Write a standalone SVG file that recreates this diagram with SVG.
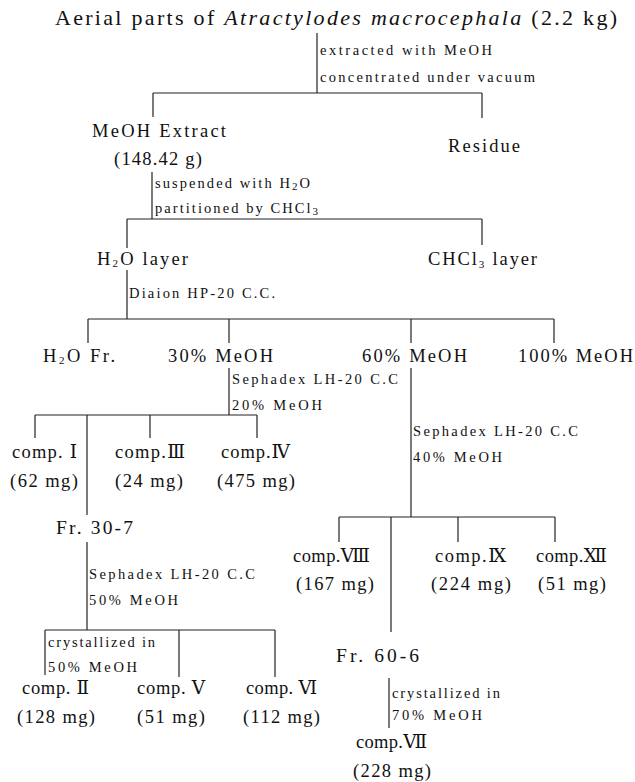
<svg xmlns="http://www.w3.org/2000/svg" width="635" height="782" viewBox="0 0 635 782">
<style>
.t{font-family:"Liberation Serif","DejaVu Serif","Noto Sans CJK KR",serif;fill:#111}
.ti{font-size:22px}
.lab{font-size:18.5px}
.fr{font-size:19.5px}
.ann{font-size:14.5px}
.sub{font-size:11px}
.c line{stroke:#222;stroke-width:1.2;fill:none}
</style>
<rect width="635" height="782" fill="#fff"/>
<g class="c" id="connectors">
<line x1="317" y1="33" x2="317" y2="93"/>
<line x1="153" y1="93" x2="482" y2="93"/>
<line x1="153" y1="93" x2="153" y2="117"/>
<line x1="482" y1="93" x2="482" y2="118"/>
<line x1="152" y1="172" x2="152" y2="219"/>
<line x1="127" y1="219" x2="482" y2="219"/>
<line x1="127" y1="219" x2="127" y2="248"/>
<line x1="482" y1="219" x2="482" y2="245"/>
<line x1="127" y1="270" x2="127" y2="319"/>
<line x1="88" y1="319" x2="554" y2="319"/>
<line x1="88" y1="319" x2="88" y2="343"/>
<line x1="229" y1="319" x2="229" y2="343"/>
<line x1="411" y1="319" x2="411" y2="343"/>
<line x1="554" y1="319" x2="554" y2="343"/>
<line x1="229" y1="368" x2="229" y2="415"/>
<line x1="35" y1="415" x2="257" y2="415"/>
<line x1="35" y1="415" x2="35" y2="438"/>
<line x1="87" y1="415" x2="87" y2="515"/>
<line x1="150" y1="415" x2="150" y2="438"/>
<line x1="257" y1="415" x2="257" y2="438"/>
<line x1="87" y1="542" x2="87" y2="630"/>
<line x1="45" y1="630" x2="275" y2="630"/>
<line x1="45" y1="630" x2="45" y2="675"/>
<line x1="179" y1="630" x2="179" y2="677"/>
<line x1="275" y1="630" x2="275" y2="677"/>
<line x1="411" y1="368" x2="411" y2="517"/>
<line x1="339" y1="517" x2="555" y2="517"/>
<line x1="339" y1="517" x2="339" y2="542"/>
<line x1="391" y1="517" x2="391" y2="632"/>
<line x1="458" y1="517" x2="458" y2="542"/>
<line x1="555" y1="517" x2="555" y2="542"/>
<line x1="389" y1="678" x2="389" y2="728"/>
</g>
<g id="annotations">
<text class="t ann" x="320" y="55" textLength="172" lengthAdjust="spacing">extracted with MeOH</text>
<text class="t ann" x="320" y="82" textLength="215" lengthAdjust="spacing">concentrated under vacuum</text>
<text class="t ann" x="155" y="188" textLength="155" lengthAdjust="spacing">suspended with H<tspan class="sub" dy="2">2</tspan><tspan dy="-2">O</tspan></text>
<text class="t ann" x="155" y="213" textLength="163" lengthAdjust="spacing">partitioned by CHCl<tspan class="sub" dy="2">3</tspan></text>
<text class="t ann" x="129" y="298" textLength="146" lengthAdjust="spacing">Diaion HP-20 C.C.</text>
<text class="t ann" x="232" y="384" textLength="166" lengthAdjust="spacing">Sephadex LH-20 C.C</text>
<text class="t ann" x="232" y="410" textLength="90" lengthAdjust="spacing">20% MeOH</text>
<text class="t ann" x="413" y="436" textLength="165" lengthAdjust="spacing">Sephadex LH-20 C.C</text>
<text class="t ann" x="413" y="462" textLength="89" lengthAdjust="spacing">40% MeOH</text>
<text class="t ann" x="89" y="579" textLength="166" lengthAdjust="spacing">Sephadex LH-20 C.C</text>
<text class="t ann" x="89" y="605" textLength="89" lengthAdjust="spacing">50% MeOH</text>
<text class="t ann" x="48" y="647" textLength="107" lengthAdjust="spacing">crystallized in</text>
<text class="t ann" x="48" y="672" textLength="89" lengthAdjust="spacing">50% MeOH</text>
<text class="t ann" x="392" y="698" textLength="108" lengthAdjust="spacing">crystallized in</text>
<text class="t ann" x="392" y="720" textLength="90" lengthAdjust="spacing">70% MeOH</text>
</g>
<g id="n-title"><text class="t ti" x="55" y="25" textLength="562" lengthAdjust="spacing">Aerial parts of <tspan font-style="italic">Atractylodes macrocephala</tspan> (2.2 kg)</text></g>
<g id="n-extract">
<text class="t lab" x="92" y="137" textLength="134" lengthAdjust="spacing">MeOH Extract</text>
<text class="t lab" x="114" y="165" textLength="88" lengthAdjust="spacing">(148.42 g)</text>
</g>
<g id="n-residue"><text class="t lab" x="448" y="152" textLength="72" lengthAdjust="spacing">Residue</text></g>
<g id="n-h2o-layer"><text class="t lab" x="97" y="265" textLength="91" lengthAdjust="spacing">H<tspan class="sub" dy="2">2</tspan><tspan dy="-2">O layer</tspan></text></g>
<g id="n-chcl3-layer"><text class="t lab" x="428" y="265" textLength="109" lengthAdjust="spacing">CHCl<tspan class="sub" dy="3">3</tspan><tspan dy="-3"> layer</tspan></text></g>
<g id="n-h2o-fr"><text class="t lab" x="43" y="362" textLength="72" lengthAdjust="spacing">H<tspan class="sub" dy="2">2</tspan><tspan dy="-2">O Fr.</tspan></text></g>
<g id="n-30"><text class="t lab" x="168" y="362" textLength="105" lengthAdjust="spacing">30% MeOH</text></g>
<g id="n-60"><text class="t lab" x="362" y="362" textLength="105" lengthAdjust="spacing">60% MeOH</text></g>
<g id="n-100"><text class="t lab" x="518" y="362" textLength="115" lengthAdjust="spacing">100% MeOH</text></g>
<g id="n-c1">
<text class="t lab" x="12" y="458" textLength="65" lengthAdjust="spacing">comp. Ⅰ</text>
<text class="t lab" x="10" y="487" textLength="68" lengthAdjust="spacing">(62 mg)</text>
</g>
<g id="n-c3">
<text class="t lab" x="115" y="458" textLength="70" lengthAdjust="spacing">comp.Ⅲ</text>
<text class="t lab" x="115" y="487" textLength="68" lengthAdjust="spacing">(24 mg)</text>
</g>
<g id="n-c4">
<text class="t lab" x="221" y="458" textLength="69" lengthAdjust="spacing">comp.Ⅳ</text>
<text class="t lab" x="217" y="487" textLength="78" lengthAdjust="spacing">(475 mg)</text>
</g>
<g id="n-fr30-7"><text class="t fr" x="56" y="534" textLength="77" lengthAdjust="spacing">Fr. 30-7</text></g>
<g id="n-c2">
<text class="t lab" x="22" y="694" textLength="67" lengthAdjust="spacing">comp. Ⅱ</text>
<text class="t lab" x="17" y="723" textLength="78" lengthAdjust="spacing">(128 mg)</text>
</g>
<g id="n-c5">
<text class="t lab" x="137" y="694" textLength="68" lengthAdjust="spacing">comp. Ⅴ</text>
<text class="t lab" x="137" y="723" textLength="68" lengthAdjust="spacing">(51 mg)</text>
</g>
<g id="n-c6">
<text class="t lab" x="246" y="694" textLength="71" lengthAdjust="spacing">comp. Ⅵ</text>
<text class="t lab" x="243" y="723" textLength="77" lengthAdjust="spacing">(112 mg)</text>
</g>
<g id="n-c8">
<text class="t lab" x="293" y="562" textLength="77" lengthAdjust="spacing">comp.Ⅷ</text>
<text class="t lab" x="296" y="590" textLength="78" lengthAdjust="spacing">(167 mg)</text>
</g>
<g id="n-c9">
<text class="t lab" x="435" y="562" textLength="71" lengthAdjust="spacing">comp.Ⅸ</text>
<text class="t lab" x="431" y="590" textLength="80" lengthAdjust="spacing">(224 mg)</text>
</g>
<g id="n-c12">
<text class="t lab" x="536" y="562" textLength="71" lengthAdjust="spacing">comp.Ⅻ</text>
<text class="t lab" x="538" y="590" textLength="68" lengthAdjust="spacing">(51 mg)</text>
</g>
<g id="n-fr60-6"><text class="t fr" x="336" y="662" textLength="83" lengthAdjust="spacing">Fr. 60-6</text></g>
<g id="n-c7">
<text class="t lab" x="356" y="748" textLength="71" lengthAdjust="spacing">comp.Ⅶ</text>
<text class="t lab" x="353" y="777" textLength="78" lengthAdjust="spacing">(228 mg)</text>
</g>
</svg>
